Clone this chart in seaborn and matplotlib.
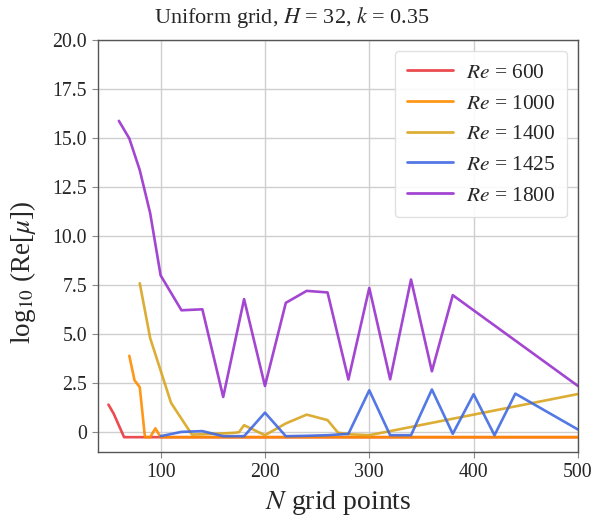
import matplotlib
matplotlib.use("Agg")
import matplotlib.pyplot as plt
import seaborn as sns
import pandas as pd
import numpy as np

# ---- data ----
n_600 = [50, 55, 65, 70, 80, 90, 100, 200, 300, 400, 500]
v_600 = [1.41, 0.95, -0.25, -0.25, -0.25, -0.25, -0.25, -0.25, -0.25, -0.25, -0.25]

n_1000 = [70, 75, 80, 85, 90, 95, 100, 200, 300, 400, 500]
v_1000 = [3.9, 2.65, 2.3, -0.25, -0.25, 0.2, -0.25, -0.25, -0.25, -0.25, -0.25]

n_1400 = [80, 90, 110, 130, 140, 150, 160, 170, 175, 180, 200, 220, 240, 260, 270, 280, 300, 500]
v_1400 = [7.6, 4.8, 1.5, -0.12, -0.1, -0.08, -0.06, -0.03, 0.0, 0.36, -0.15, 0.45, 0.9, 0.62, -0.02, -0.1, -0.15, 1.95]

n_1425 = [100, 120, 140, 160, 180, 200, 220, 240, 260, 280, 300, 320, 340, 360, 380, 400, 420, 440, 500]
v_1425 = [-0.2, 0.02, 0.06, -0.2, -0.2, 1.0, -0.2, -0.18, -0.15, -0.08, 2.14, -0.15, -0.15, 2.18, -0.08, 1.94, -0.15, 1.97, 0.14]

n_1800 = [60, 70, 80, 90, 100, 120, 140, 160, 180, 200, 220, 240, 260, 280, 300, 320, 340, 360, 380, 500]
v_1800 = [15.88, 14.98, 13.37, 11.17, 8.0, 6.22, 6.27, 1.8, 6.79, 2.36, 6.6, 7.21, 7.13, 2.69, 7.36, 2.7, 7.79, 3.11, 6.99, 2.36]

series_labels = ["$Re$ = 600", "$Re$ = 1000", "$Re$ = 1400", "$Re$ = 1425", "$Re$ = 1800"]
series_colors = ["#E8383D", "#FF8C00", "#DAA520", "#4169E1", "#9932CC"]

y_ticks = [0, 2.5, 5.0, 7.5, 10.0, 12.5, 15.0, 17.5, 20.0]
y_ticklabels = ["0", "2.5", "5.0", "7.5", "10.0", "12.5", "15.0", "17.5", "20.0"]
x_ticks = [100, 200, 300, 400, 500]

# ---- build long-form table ----
frames = []
for lab, n, v in zip(series_labels,
                     [n_600, n_1000, n_1400, n_1425, n_1800],
                     [v_600, v_1000, v_1400, v_1425, v_1800]):
    frames.append(pd.DataFrame({"N": n, "val": v, "series": lab}))
df = pd.concat(frames, ignore_index=True)

sns.set_theme(style="whitegrid")
plt.rcParams["font.family"] = ["Liberation Serif", "DejaVu Serif"]
plt.rcParams["mathtext.fontset"] = "stix"

fig = plt.figure(figsize=(5.94, 5.2), dpi=100)
ax = fig.add_axes([0.165, 0.131, 0.808, 0.792])

sns.lineplot(data=df, x="N", y="val", hue="series", hue_order=series_labels,
             palette=dict(zip(series_labels, series_colors)), linewidth=1.9,
             alpha=0.9, ax=ax, sort=False, estimator=None)

ax.set_xlim(40, 500)
ax.set_ylim(-1, 20)
ax.set_xticks(x_ticks)
ax.set_xticklabels([str(t) for t in x_ticks])
ax.set_yticks(y_ticks)
ax.set_yticklabels(y_ticklabels)
ax.tick_params(axis="both", labelsize=14.3, length=4, width=0.8, color="#888888",
               direction="out", pad=4, left=True, bottom=True)
ax.grid(True, color="#cfcfcf", linewidth=1.0)
for s in ax.spines.values():
    s.set_color("#555555")
    s.set_linewidth(1.0)

ax.set_xlabel("$N$ grid points", fontsize=20, labelpad=4)
ax.set_ylabel("log$_{10}$ (Re[$\\mu$])", fontsize=19.5)
ax.yaxis.set_label_coords(-0.125, 0.437)
fig.text(0.492, 0.967, "Uniform grid, $H$ = 32, $k$ = 0.35", fontsize=16,
         ha="center", va="center")

leg = ax.legend(loc="upper right", fontsize=15.4, frameon=True, handlelength=2.15,
                labelspacing=0.5, borderpad=0.55, handletextpad=0.6,
                borderaxespad=0.0, fancybox=True, framealpha=0.9, edgecolor="#dddddd",
                bbox_to_anchor=(0.977, 0.973))
for line in leg.get_lines():
    line.set_linewidth(2.0)

fig.savefig("out.png", dpi=100)
